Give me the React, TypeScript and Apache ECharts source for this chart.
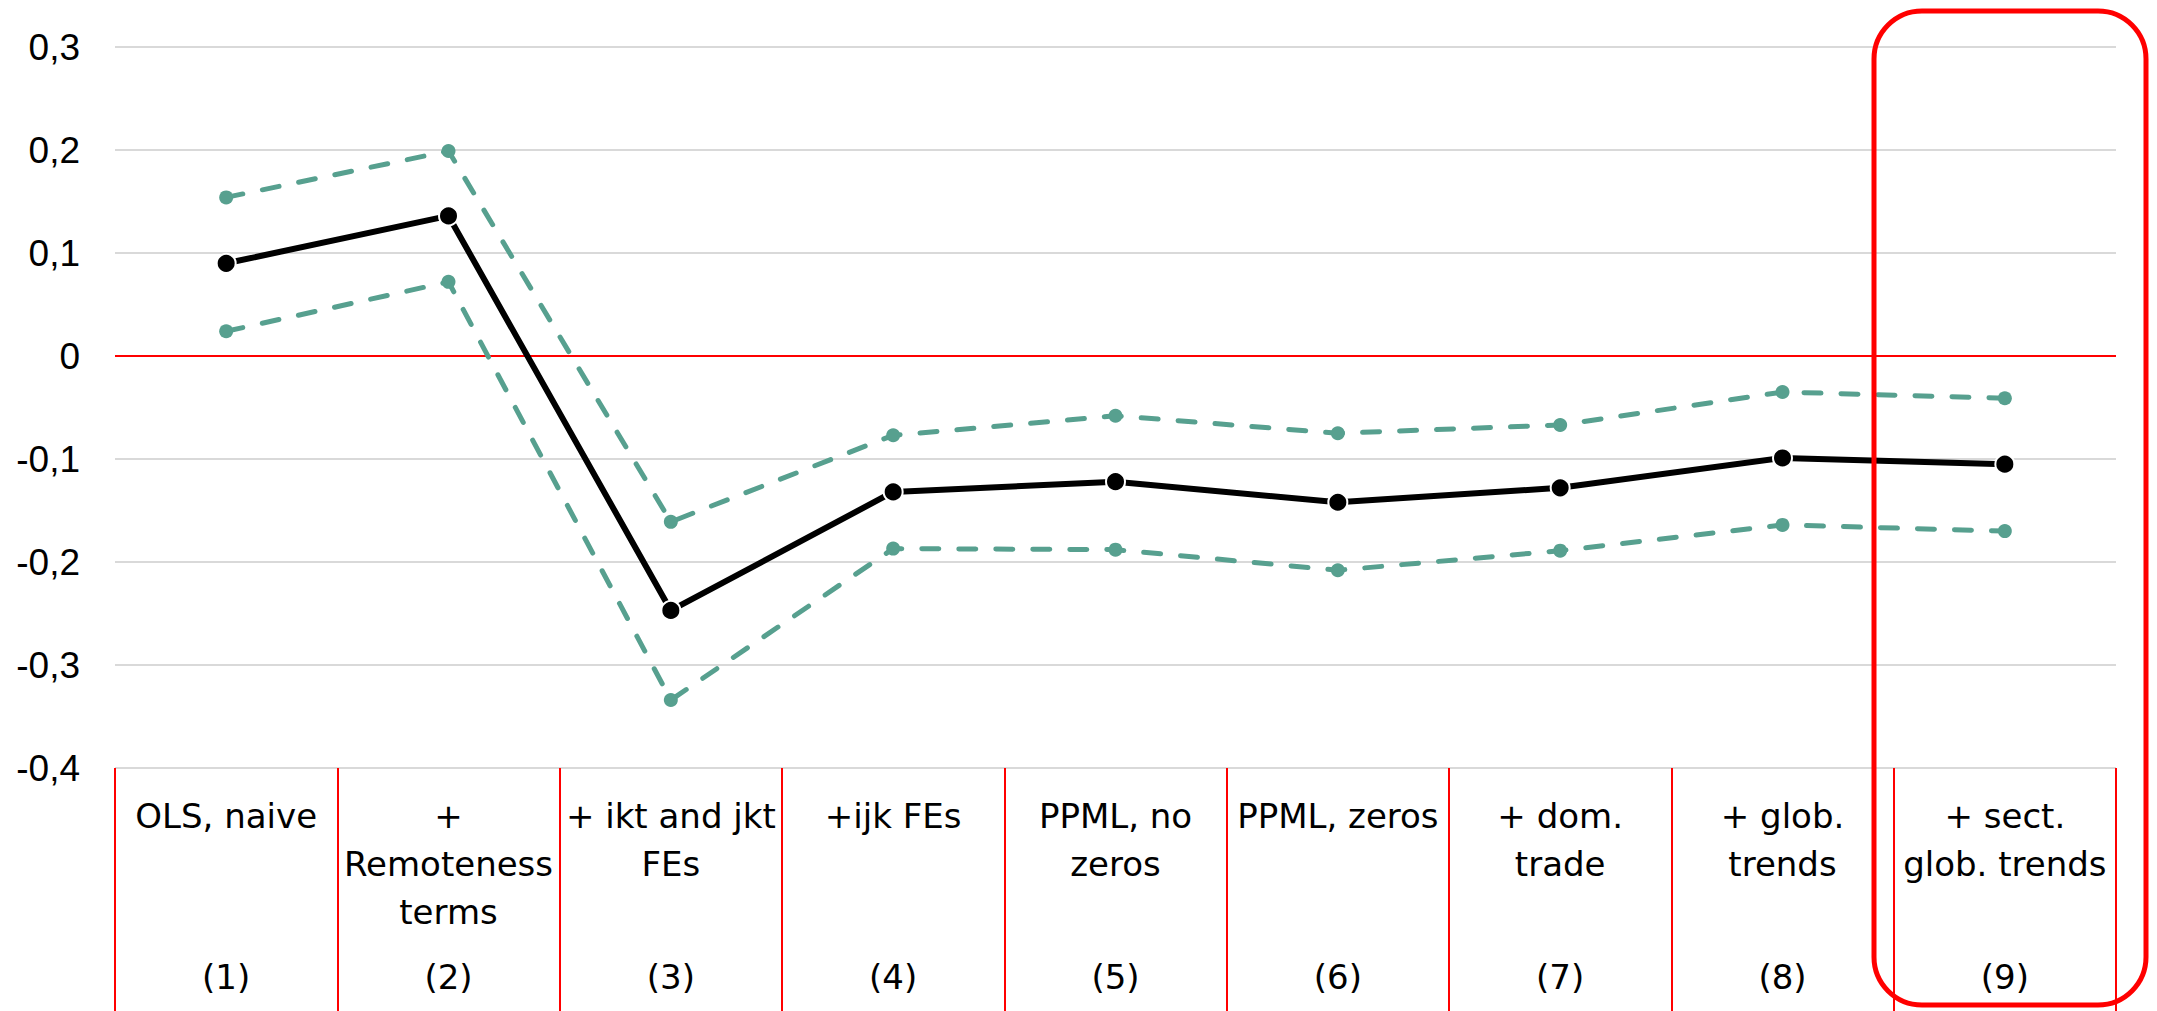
import React, { useEffect, useRef } from "react";
import * as echarts from "echarts";

const categories = [
  "OLS, naive",
  "+\nRemoteness\nterms",
  "+ ikt and jkt\nFEs",
  "+ijk FEs",
  "PPML, no\nzeros",
  "PPML, zeros",
  "+ dom.\ntrade",
  "+ glob.\ntrends",
  "+ sect.\nglob. trends",
];
const specNumbers = ["(1)", "(2)", "(3)", "(4)", "(5)", "(6)", "(7)", "(8)", "(9)"];
const estimate = [0.09, 0.136, -0.247, -0.132, -0.122, -0.142, -0.128, -0.099, -0.105];
const upperCI = [0.154, 0.199, -0.161, -0.077, -0.058, -0.075, -0.067, -0.035, -0.041];
const lowerCI = [0.024, 0.072, -0.334, -0.187, -0.188, -0.208, -0.189, -0.164, -0.17];

const TEAL = "#57a08f";
const RED = "#ff0000";

export default function App() {
  const ref = useRef<HTMLDivElement>(null);
  useEffect(() => {
    if (!ref.current) return;
    const chart = echarts.init(ref.current, null, { renderer: "svg" });
    const tealSeries = (name: string, data: number[], extra: any = {}) => ({
      name,
      type: "line",
      data,
      xAxisIndex: 0,
      symbol: "circle",
      symbolSize: 14,
      z: 3,
      itemStyle: { color: TEAL },
      lineStyle: { color: TEAL, width: 5, type: [17, 20], cap: "round" },
      ...extra,
    });
    chart.setOption({
      animation: false,
      backgroundColor: "#ffffff",
      grid: { left: 115, right: 41, top: 47, bottom: 243, containLabel: false, outerBoundsMode: "none" },
      xAxis: [
        {
          type: "category",
          data: categories,
          boundaryGap: true,
          position: "bottom",
          axisLine: { show: false, onZero: false },
          axisTick: { show: true, length: 243, lineStyle: { color: RED, width: 2 } },
          axisLabel: {
            interval: 0,
            margin: 24,
            fontFamily: "'DejaVu Sans', sans-serif",
            fontSize: 34,
            lineHeight: 48,
            color: "#000",
            align: "center",
          },
          splitLine: { show: false },
        },
        {
          type: "category",
          data: specNumbers,
          boundaryGap: true,
          position: "bottom",
          offset: 0,
          axisLine: { show: false, onZero: false },
          axisTick: { show: false },
          axisLabel: {
            interval: 0,
            margin: 185,
            fontFamily: "'DejaVu Sans', sans-serif",
            fontSize: 34,
            lineHeight: 48,
            color: "#000",
          },
          splitLine: { show: false },
        },
      ],
      yAxis: {
        type: "value",
        min: -0.4,
        max: 0.3,
        interval: 0.1,
        axisLine: { show: false },
        axisTick: { show: false },
        axisLabel: {
          margin: 35,
          fontFamily: "'Liberation Sans', sans-serif",
          fontSize: 37,
          color: "#000",
          formatter: (v: number) => {
            const r = Math.round(v * 10) / 10;
            if (r === 0) return "0";
            return r.toFixed(1).replace(".", ",");
          },
        },
        splitLine: { show: true, lineStyle: { color: "#d9d9d9", width: 2 } },
      },
      series: [
        tealSeries("Upper", upperCI, {
          markLine: {
            silent: true,
            symbol: "none",
            label: { show: false },
            z: 1,
            lineStyle: { color: RED, width: 2, type: "solid" },
            data: [{ yAxis: 0 }],
          },
        }),
        tealSeries("Lower", lowerCI),
        {
          name: "Estimate",
          type: "line",
          data: estimate,
          symbol: "circle",
          symbolSize: 19,
          z: 4,
          itemStyle: { color: "#000", borderColor: "#fff", borderWidth: 2 },
          lineStyle: { color: "#000", width: 6 },
        },
      ],
      graphic: [
        {
          type: "rect",
          z: 100,
          silent: true,
          shape: { x: 1874, y: 11, width: 272, height: 994, r: 48 },
          style: { fill: "none", stroke: RED, lineWidth: 5 },
        },
      ],
    });
    return () => chart.dispose();
  }, []);
  return (
    <div
      ref={ref}
      style={{ position: "absolute", left: 0, top: 0, width: 2157, height: 1011 }}
    />
  );
}
